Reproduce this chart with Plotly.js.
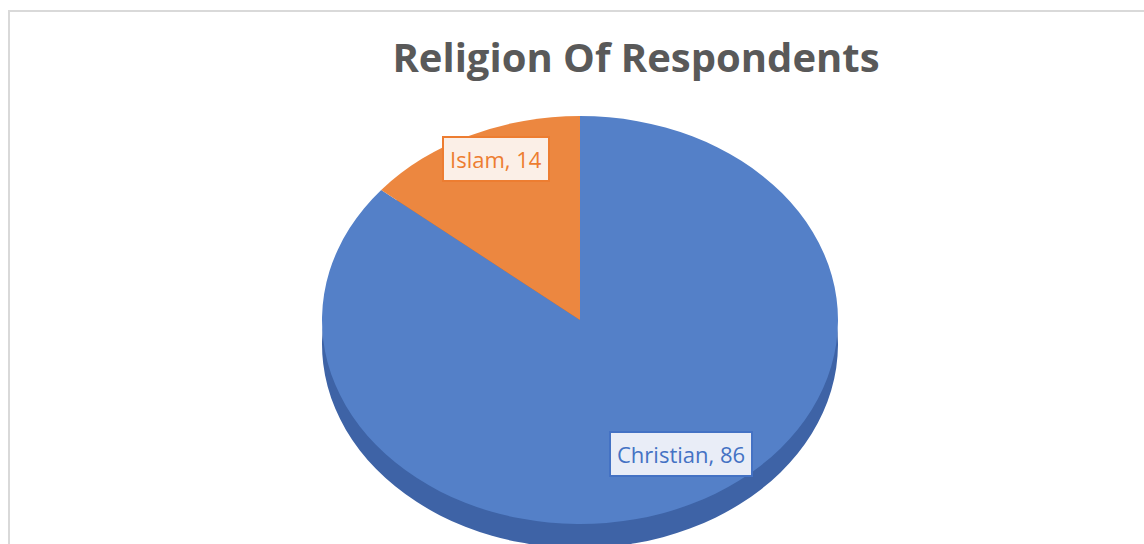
<!DOCTYPE html>
<html>
<head>
<meta charset="utf-8">
<script src="https://cdn.plot.ly/plotly-3.0.1.min.js"></script>
<style>
  html, body { margin: 0; padding: 0; background: #ffffff; }
  #wrap { position: absolute; left: 0; top: 0; width: 1144px; height: 544px; overflow: hidden; }
  #chart { position: absolute; left: 0; top: 0; width: 1144px; height: 600px; }
  #frame { position: absolute; left: 8px; top: 10px; width: 1200px; height: 600px;
           border-left: 2px solid #d9d9d9; border-top: 2px solid #d9d9d9; pointer-events: none; }
</style>
</head>
<body>
<div id="wrap">
  <div id="chart"></div>
  <div id="frame"></div>
</div>
<script>
// ---- data ----
const titleText = "Religion Of Respondents";
const religions = ["Christian", "Islam"];
const counts = [86, 14];
const topColors = ["#5480C8", "#EC8740"];
const sideColors = ["#3E63A6", "#B8622A"];
const labelTextColors = ["#4472C4", "#ED7D31"];
const labelBgColors = ["#e9edf7", "#fbefe7"];
const labelBorderColors = ["#4472C4", "#ED7D31"];

// ---- geometry (layout only) ----
const W = 1144, H = 600;
const cx = 580, cy = 320, r = 204, depth = 24;
const stretchX = 258 / r;

function dom(centerY) {
  return {
    x: [(cx - r) / W, (cx + r) / W],
    y: [1 - (centerY + r) / H, 1 - (centerY - r) / H]
  };
}

const common = {
  type: "pie",
  labels: religions,
  values: counts,
  sort: false,
  direction: "clockwise",
  rotation: 0,
  textinfo: "none",
  hoverinfo: "none",
  showlegend: false
};

const sideTrace = Object.assign({}, common, {
  domain: dom(cy + depth),
  marker: { colors: sideColors, line: { width: 0 } }
});
const topTrace = Object.assign({}, common, {
  domain: dom(cy),
  marker: { colors: topColors, line: { width: 0 } }
});

// label positions (pixels) for annotations
const labelPos = [[681, 454], [496, 159]];
const annotations = religions.map((name, i) => ({
  xref: "paper", yref: "paper",
  x: labelPos[i][0] / W, y: 1 - labelPos[i][1] / H,
  xanchor: "center", yanchor: "middle",
  text: name + ", " + counts[i],
  showarrow: false,
  font: { family: "Open Sans, sans-serif", size: 22, color: labelTextColors[i] },
  bgcolor: labelBgColors[i],
  bordercolor: labelBorderColors[i],
  borderwidth: 2,
  borderpad: 6
}));

const layout = {
  width: W, height: H,
  margin: { l: 0, r: 0, t: 0, b: 0 },
  paper_bgcolor: "rgba(0,0,0,0)",
  plot_bgcolor: "rgba(0,0,0,0)",
  title: {
    text: "<b>" + titleText + "</b>",
    font: { family: "Open Sans, sans-serif", size: 40, color: "#595959" },
    x: 636 / W, xanchor: "center",
    y: 1 - 58 / H, yanchor: "middle"
  },
  annotations: annotations
};

Plotly.newPlot("chart", [sideTrace, topTrace], layout, { displayModeBar: false, staticPlot: true })
  .then(gd => {
    const pl = gd.querySelector(".pielayer");
    if (pl) {
      pl.setAttribute("transform",
        "translate(" + cx + ",0) scale(" + stretchX + ",1) translate(" + (-cx) + ",0)");
    }
  });
</script>
</body>
</html>
